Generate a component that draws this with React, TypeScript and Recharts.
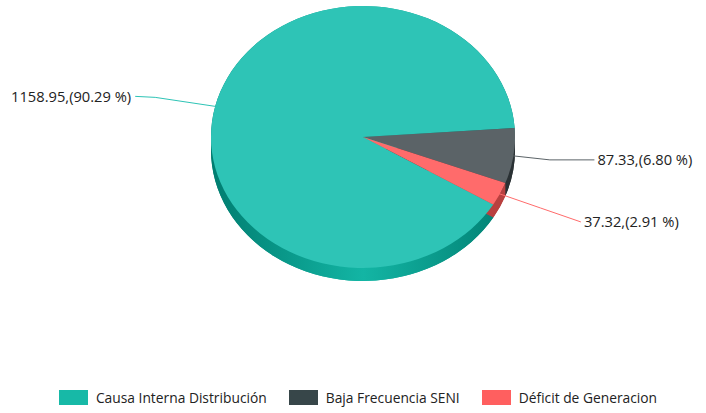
import { PieChart, Pie, Legend } from "recharts"

const categories = ["Causa Interna Distribución", "Baja Frecuencia SENI", "Déficit de Generacion"]
const values = [1158.95, 87.33, 37.32]
const topColors = ["#2ec4b6", "#5b6367", "#ff6b6b"]
const legendColors = ["#17b9a7", "#374649", "#ff5f5f"]
const sideColors = ["url(#tealSide)", "#2a3134", "#b9403f"]

const data = categories.map((name, i) => ({
  name,
  value: values[i],
  fill: topColors[i],
  side: sideColors[i],
  legendColor: legendColors[i],
}))

const RY = 131 / 152
const DEPTH = 13

const pt = (cx: number, cy: number, r: number, a: number, dy = 0) => {
  const rad = (a * Math.PI) / 180
  return [cx + r * Math.cos(rad), cy - r * RY * Math.sin(rad) + dy]
}

function TopSlice(props: any) {
  const { cx, cy, outerRadius: r, startAngle: s, endAngle: e, fill } = props
  const [x1, y1] = pt(cx, cy, r, s)
  const [x2, y2] = pt(cx, cy, r, e)
  const large = Math.abs(e - s) > 180 ? 1 : 0
  const sweep = e < s ? 1 : 0
  const d = `M${cx},${cy} L${x1},${y1} A${r},${r * RY} 0 ${large} ${sweep} ${x2},${y2} Z`
  return <path d={d} fill={fill} />
}

function SideSlice(props: any) {
  const { cx, cy, outerRadius: r, startAngle: s, endAngle: e, payload } = props
  const color = payload.side
  const [x1, y1] = pt(cx, cy, r, s)
  const [x2, y2] = pt(cx, cy, r, e)
  const [bx1, by1] = pt(cx, cy, r, s, DEPTH)
  const [bx2, by2] = pt(cx, cy, r, e, DEPTH)
  const large = Math.abs(e - s) > 180 ? 1 : 0
  const sweep = e < s ? 1 : 0
  const bottom = `M${cx},${cy + DEPTH} L${bx1},${by1} A${r},${r * RY} 0 ${large} ${sweep} ${bx2},${by2} Z`
  const wall = `M${x1},${y1} A${r},${r * RY} 0 ${large} ${sweep} ${x2},${y2} L${bx2},${by2} A${r},${r * RY} 0 ${large} ${1 - sweep} ${bx1},${by1} Z`
  return (
    <g>
      <path d={bottom} fill={color} />
      <path d={wall} fill={color} />
    </g>
  )
}

// end offset, bend fraction, anchor
const labelOffsets = [
  [-80, -10, 0.75, "end"],
  [81, 4, 0.45, "start"],
  [81, 28, 0.5, "start"],
]

function renderLabel(props: any) {
  const { cx, cy, outerRadius: r, midAngle, index, value, percent, fill } = props
  const [ex, ey] = pt(cx, cy, r, midAngle)
  const [dx, dy, bend, anchor] = labelOffsets[index] as [number, number, number, string]
  const lx = ex + dx
  const ly = ey + dy
  const mx = ex + dx * bend
  const my = index === 0 ? ly + 1 : index === 1 ? ly : ey + dy * bend
  const tx = anchor === "end" ? lx - 4 : lx + 3
  return (
    <g>
      <path d={`M${ex},${ey} L${mx},${my} L${lx},${ly}`} stroke={fill} strokeWidth={1} fill="none" />
      <text x={tx} y={ly} dy={5.5} textAnchor={anchor as any} fontSize={14.7} fill="#222" fontFamily="'Open Sans', sans-serif">
        {`${value.toFixed(2)},(${(percent * 100).toFixed(2)} %)`}
      </text>
    </g>
  )
}

const legendPayload = data.map((d) => ({ value: d.name, type: "rect" as const, color: d.legendColor }))

function renderLegend() {
  return (
    <div style={{ display: "flex", justifyContent: "center", gap: 22, paddingLeft: 10, fontFamily: "'Open Sans', sans-serif", fontSize: 13.8, color: "#222" }}>
      {legendPayload.map((p) => (
        <div key={p.value} style={{ display: "flex", alignItems: "center" }}>
          <span style={{ width: 29, height: 15, background: p.color, display: "inline-block", marginRight: 8 }} />
          <span>{p.value}</span>
        </div>
      ))}
    </div>
  )
}

export default function App() {
  return (
    <div style={{ position: "absolute", left: 0, top: 0, background: "#fff" }}>
      <PieChart width={706} height={413} margin={{ top: 0, right: 0, bottom: 0, left: 0 }}>
        <defs>
          <linearGradient id="tealSide" gradientUnits="userSpaceOnUse" x1={211} y1={0} x2={515} y2={0}>
            <stop offset="0%" stopColor="#007d70" />
            <stop offset="50%" stopColor="#13b5a4" />
            <stop offset="100%" stopColor="#007d70" />
          </linearGradient>
        </defs>
        <Pie
          data={data}
          dataKey="value"
          cx={363}
          cy={137}
          outerRadius={152}
          startAngle={-31}
          endAngle={-391}
          stroke="none"
          shape={SideSlice}
          legendType="none"
          isAnimationActive={false}
        />
        <Pie
          data={data}
          dataKey="value"
          cx={363}
          cy={137}
          outerRadius={152}
          startAngle={-31}
          endAngle={-391}
          stroke="none"
          shape={TopSlice}
          label={renderLabel}
          labelLine={false}
          isAnimationActive={false}
        />
        <Legend content={renderLegend} verticalAlign="bottom" wrapperStyle={{ bottom: 6 }} />
      </PieChart>
    </div>
  )
}
